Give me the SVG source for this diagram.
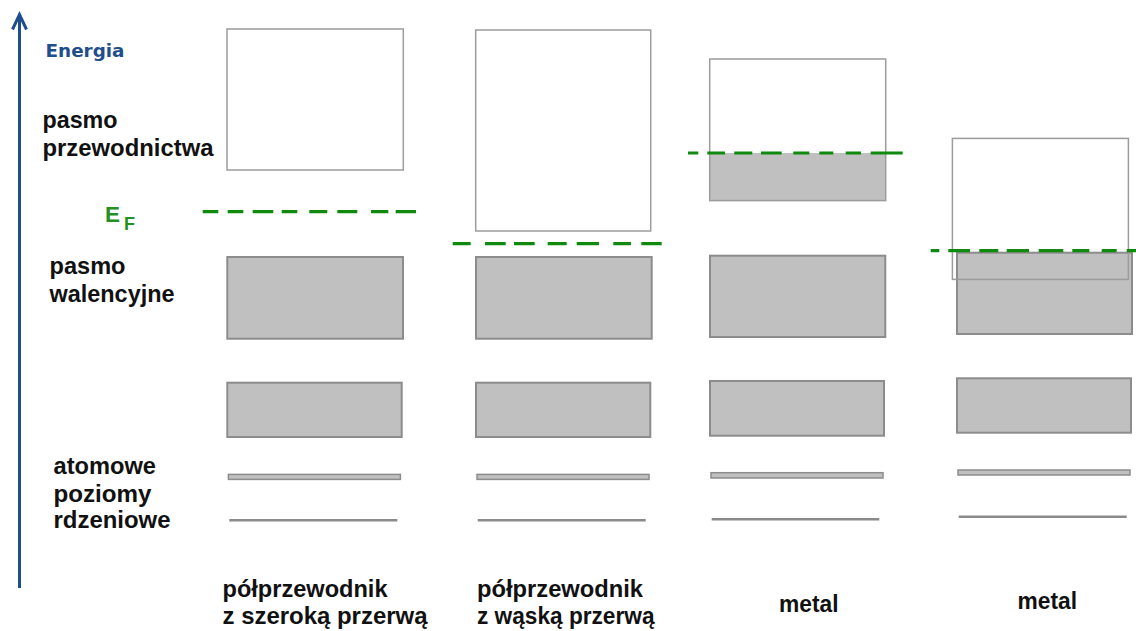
<svg xmlns="http://www.w3.org/2000/svg" width="1136" height="631" viewBox="0 0 1136 631">
<style>
.cb{fill:none;stroke:#9c9c9c;stroke-width:1.5}
.vb{fill:#c0c0c0;stroke:#8c8c8c;stroke-width:2}
.fill{fill:#c0c0c0;stroke:none}
.thin{fill:#c0c0c0;stroke:#8c8c8c;stroke-width:1.5}
.core{stroke:#8a8a8a;stroke-width:2.5;fill:none}
.ef{stroke:#0f8a0f;stroke-width:3.2;fill:none}
.lbl{font-family:"Liberation Sans",Arial,sans-serif;font-weight:bold;font-size:24px;fill:#111}
.eft{font-family:"Liberation Sans",Arial,sans-serif;font-weight:bold;fill:#229022}
.axis{stroke:#1f4e8d;stroke-width:3;fill:none}
</style>
<rect width="1136" height="631" fill="#fff"/>

<g id="axis">
<line class="axis" x1="19.5" y1="15" x2="19.5" y2="588"/>
<polyline class="axis" points="12.5,29.5 19.5,14.5 26.5,29.5" stroke-linejoin="miter"/>
<text x="45.5" y="57.3" font-family="'DejaVu Sans',Verdana,sans-serif" font-weight="bold" font-size="18.5" fill="#1f4e8d" textLength="79" lengthAdjust="spacingAndGlyphs">Energia</text>
</g>

<g id="labels">
<text class="lbl" x="42.5" y="128" textLength="75" lengthAdjust="spacingAndGlyphs">pasmo</text>
<text class="lbl" x="42.5" y="156" textLength="171" lengthAdjust="spacingAndGlyphs">przewodnictwa</text>
<text class="eft" x="105" y="222.3" font-size="22.5" textLength="15" lengthAdjust="spacingAndGlyphs">E</text>
<text class="eft" x="124" y="230" font-size="17.5" textLength="11" lengthAdjust="spacingAndGlyphs">F</text>
<text class="lbl" x="49.5" y="274.3" textLength="76" lengthAdjust="spacingAndGlyphs">pasmo</text>
<text class="lbl" x="49.5" y="301.5" textLength="125" lengthAdjust="spacingAndGlyphs">walencyjne</text>
<text class="lbl" x="53.5" y="474.3" textLength="102.5" lengthAdjust="spacingAndGlyphs">atomowe</text>
<text class="lbl" x="53.5" y="501.5" textLength="98" lengthAdjust="spacingAndGlyphs">poziomy</text>
<text class="lbl" x="53.5" y="528.3" textLength="117" lengthAdjust="spacingAndGlyphs">rdzeniowe</text>
</g>

<g id="col-wide-gap">
<rect class="cb" x="227" y="29" width="176.3" height="141"/>
<rect class="vb" x="227.3" y="257" width="175.7" height="81.7"/>
<rect class="vb" x="227.3" y="382.7" width="174.4" height="54.3"/>
<rect class="thin" x="228.4" y="474.4" width="172" height="5"/>
<line class="core" x1="229.3" y1="520.3" x2="397.3" y2="520.3"/>
<text class="lbl" x="222.5" y="597" textLength="165" lengthAdjust="spacingAndGlyphs">półprzewodnik</text>
<text class="lbl" x="222.5" y="624" textLength="205" lengthAdjust="spacingAndGlyphs">z szeroką przerwą</text>
</g>

<g id="col-narrow-gap">
<rect class="cb" x="475.7" y="30" width="175" height="201"/>
<rect class="vb" x="476" y="257" width="175.7" height="81.7"/>
<rect class="vb" x="476" y="382.7" width="174.3" height="54.3"/>
<rect class="thin" x="477" y="474.4" width="172" height="5"/>
<line class="core" x1="477.7" y1="520.3" x2="645.7" y2="520.3"/>
<text class="lbl" x="477" y="597" textLength="166" lengthAdjust="spacingAndGlyphs">półprzewodnik</text>
<text class="lbl" x="477" y="624" textLength="177.5" lengthAdjust="spacingAndGlyphs">z wąską przerwą</text>
</g>

<g id="col-metal-1">
<rect class="fill" x="709.7" y="153" width="176" height="47.6"/>
<rect class="cb" x="709.7" y="59" width="176" height="141.6"/>
<rect class="vb" x="710" y="255.7" width="175.3" height="81.3"/>
<rect class="vb" x="710" y="381" width="174" height="54.7"/>
<rect class="thin" x="711" y="472.7" width="172" height="5.3"/>
<line class="core" x1="711.7" y1="519.3" x2="879.3" y2="519.3"/>
<text class="lbl" x="779" y="612" textLength="59.5" lengthAdjust="spacingAndGlyphs">metal</text>
</g>

<g id="col-metal-2">
<rect class="vb" x="957" y="252.7" width="175" height="81.3"/>
<rect class="cb" x="952.4" y="138.4" width="176" height="141"/>
<rect class="vb" x="957" y="378.3" width="174" height="54.4"/>
<rect class="thin" x="958" y="470" width="172" height="5"/>
<line class="core" x1="958.7" y1="516.7" x2="1126.7" y2="516.7"/>
<text class="lbl" x="1017.5" y="609" textLength="59.5" lengthAdjust="spacingAndGlyphs">metal</text>
</g>

<g id="connectors">
<path class="ef" d="M202.7 211.7H218.3M227.7 211.7H243.3M252.7 211.7H273.3M281.7 211.7H297.3M309.3 211.7H327.3M337.3 211.7H357.3M371 211.7H388.3M395.7 211.7H416"/>
<path class="ef" d="M452.7 243.7H470.7M485 243.7H505.7M514 243.7H534.7M547.7 243.7H566.7M576.7 243.7H599M613.3 243.7H631M641.3 243.7H661.7"/>
<path class="ef" d="M688 153H698.3M707.3 153H725M734.3 153H752.3M761 153H781.7M793.3 153H809.3M819.3 153H833.3M845.7 153H861M870.7 153H902.7"/>
<path class="ef" d="M930.7 250.7H939.3M948.3 250.7H970M979.3 250.7H998.3M1006.7 250.7H1029M1038.7 250.7H1063.3M1072.3 250.7H1089.3M1101.7 250.7H1116.7M1126.7 250.7H1136"/>
</g>
</svg>
